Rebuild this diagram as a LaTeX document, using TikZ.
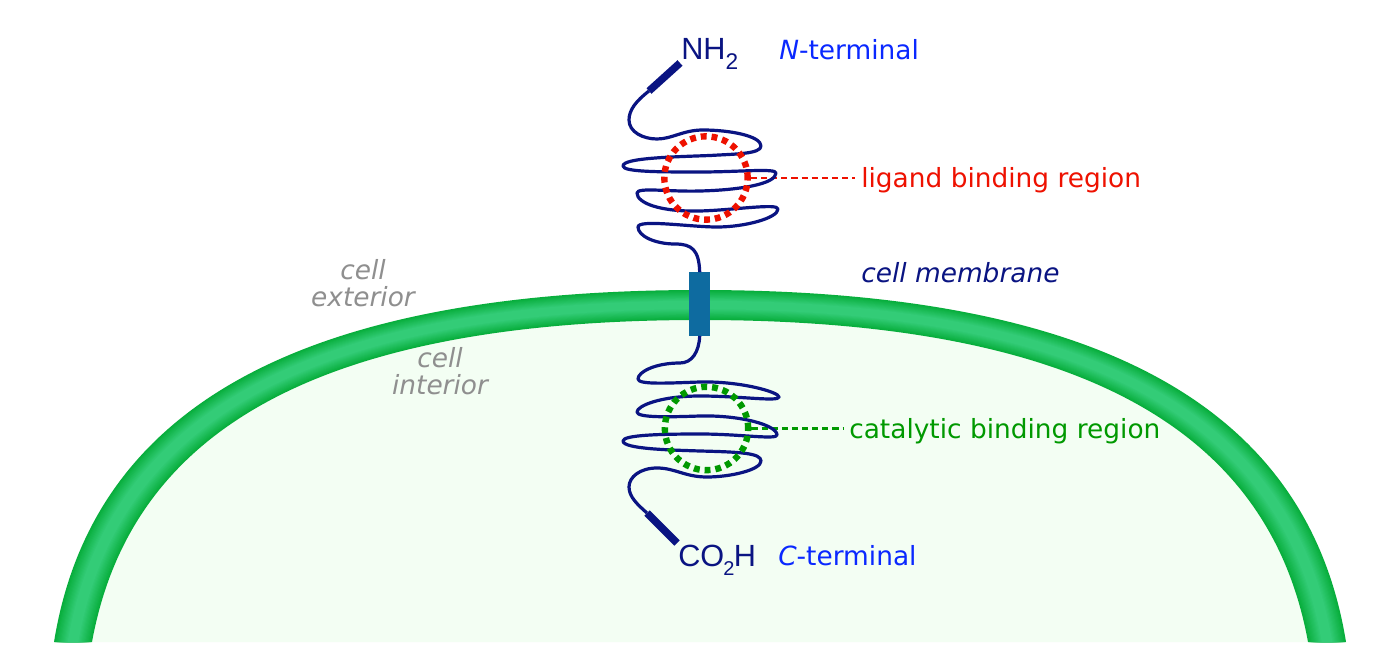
\documentclass[tikz,border=0pt]{standalone}
\usepackage{fontspec}
\setmainfont{DejaVu Sans}
\newfontfamily\chemfont{Liberation Sans}
\definecolor{memedge}{HTML}{08AE3C}
\definecolor{memmid}{HTML}{33CC77}
\definecolor{cellin}{HTML}{F3FEF3}
\definecolor{navyc}{HTML}{0A1482}
\definecolor{rodc}{HTML}{0E6BA0}
\definecolor{redc}{HTML}{EE1100}
\definecolor{greenc}{HTML}{009900}
\definecolor{bluec}{HTML}{0A28FF}
\definecolor{grayc}{HTML}{8F8F8F}
\pgfdeclarelayer{under}
\pgfdeclarelayer{mid}
\pgfsetlayers{under,mid,main}
\tikzset{
  coil/.style={draw=navyc,line width=2.4pt,line join=round},
  endrod/.style={draw=navyc,line width=5.6pt},
  ringnode/.style={circle,minimum size=62.5pt,inner sep=0pt,line width=4.8pt,dash pattern=on 4.4pt off 3.7pt},
  lead/.style={line width=1.9pt,dash pattern=on 4.6pt off 3pt,shorten >=4.5pt},
  lab/.style={font=\fontsize{19.8}{23}\selectfont,anchor=base west,inner sep=0pt},
  grp/.style={font=\fontsize{19.8}{20.5}\selectfont\itshape,text=grayc,align=center,inner sep=0pt},
  chem/.style={font=\fontsize{23}{26}\chemfont,text=navyc,anchor=base west,inner sep=0pt},
}
% O: (54,642) (90,420) (280,290) (700,290); I: (92,642) (128,445) (295,320) (700,320)
\newcommand{\bandfill}[2]{%
  \pgfmathsetmacro\ax{54+38*#1}\pgfmathsetmacro\bx{90+38*#1}\pgfmathsetmacro\by{420+25*#1}%
  \pgfmathsetmacro\cx{280+15*#1}\pgfmathsetmacro\cy{290+30*#1}%
  \pgfmathsetmacro\Ax{54+38*(1-#1)}\pgfmathsetmacro\Bx{90+38*(1-#1)}\pgfmathsetmacro\By{420+25*(1-#1)}%
  \pgfmathsetmacro\Cx{280+15*(1-#1)}\pgfmathsetmacro\Cy{290+30*(1-#1)}%
  \fill[#2] (\ax,642) .. controls (\bx,\by) and (\cx,\cy) .. (700,\cy)
    .. controls ({1400-\cx},\cy) and ({1400-\bx},\by) .. ({1400-\ax},642)
    -- ({1400-\Ax},642) .. controls ({1400-\Bx},\By) and ({1400-\Cx},\Cy) .. (700,\Cy)
    .. controls (\Cx,\Cy) and (\Bx,\By) .. (\Ax,642) -- cycle;
}
\begin{document}
\begin{tikzpicture}[x=0.75pt,y=-0.75pt]
\useasboundingbox (0,0) rectangle (1400,670);
\begin{pgfonlayer}{under}
\fill[white] (0,0) rectangle (1400,670);
\fill[cellin] (92,642) .. controls (128,445) and (295,320) .. (700,320) .. controls (1105,320) and (1272,445) .. (1308,642) -- cycle;
\foreach \i in {0,...,12}{
  \pgfmathsetmacro\ff{\i*0.03}
  \pgfmathtruncatemacro\pp{\i*100/12}
  \bandfill{\ff}{memmid!\pp!memedge}
}
\node[fill=rodc,draw=none,minimum width=16pt,minimum height=47.5pt,inner sep=0pt] (tm) at (699.7,304) {};
\end{pgfonlayer}
\coordinate (ntop) at (680,63);
\coordinate (nbot) at (649,91);
\coordinate (cbot) at (677,543);
\coordinate (ctop) at (647,513);
% rings
\node[ringnode,draw=redc] (ringa) at (706,178) {};
\node[ringnode,draw=greenc] (ringb) at (706.5,428.5) {};
% coils
\begin{pgfonlayer}{mid}
\draw[coil] (nbot) .. controls (636,101) and (629,110) .. (629,120)
 .. controls (629,132) and (643,139) .. (657,139)
 .. controls (672,139) and (683,130) .. (703,130)
 .. controls (730,130) and (761,136) .. (761,146)
 .. controls (761,154) and (735,154) .. (710,155.5)
 .. controls (670,157) and (623,158) .. (623,166)
 .. controls (623,172) and (660,172) .. (700,172)
 .. controls (740,172) and (776,168) .. (776,173)
 .. controls (776,184) and (740,190) .. (700,191)
 .. controls (670,192) and (637,187) .. (637,193)
 .. controls (637,203) and (660,212) .. (700,211)
 .. controls (735,210) and (778,203) .. (778,209)
 .. controls (778,218) and (745,227) .. (717,227)
 .. controls (690,227) and (638,219) .. (638,227)
 .. controls (638,236) and (655,244) .. (675,244)
 .. controls (692,244) and (699,250) .. (tm.north);
\draw[coil] (tm.south) .. controls (699,352) and (692,363) .. (680,363)
 .. controls (655,363) and (638,372) .. (638,379)
 .. controls (638,385) and (670,383) .. (700,382)
 .. controls (740,381) and (779,392) .. (779,397)
 .. controls (779,402) and (740,396) .. (700,396)
 .. controls (660,396) and (637,406) .. (637,412)
 .. controls (637,418) and (670,417) .. (700,416)
 .. controls (740,415) and (777,425) .. (777,435)
 .. controls (777,440) and (740,434) .. (700,434)
 .. controls (660,434) and (623,435) .. (623,441)
 .. controls (623,449) and (670,450) .. (700,451)
 .. controls (740,452) and (761,453) .. (761,461)
 .. controls (761,470) and (730,477) .. (707,477)
 .. controls (685,477) and (675,468) .. (657,468)
 .. controls (640,468) and (629,477) .. (629,487)
 .. controls (629,497) and (638,505) .. (ctop);
\draw[endrod] (nbot) -- (ntop);
\draw[endrod] (ctop) -- (cbot);
\end{pgfonlayer}
% labels
\node[chem] (nh) at (681,60) {NH\raisebox{-0.3em}{\fontsize{17}{20}\selectfont 2}};
\node[chem] (co) at (678,566) {CO\kern-0.6pt\raisebox{-0.3em}{\fontsize{15}{20}\selectfont 2}\kern-0.6pt H};
\node[lab,text=bluec] (nterm) at (779,60) {\itshape N\upshape -terminal};
\node[lab,text=bluec] (cterm) at (778,565) {\itshape C\upshape -terminal};
\node[lab,text=redc] (ligand) at (861,187.5) {ligand binding region};
\node[lab,text=greenc] (cataly) at (849,438) {catalytic binding region};
\node[lab,text=navyc,font=\fontsize{19.8}{23}\selectfont\itshape] (memb) at (861,282.5) {cell membrane};
\node[grp] (ext) at (363,283) {cell\\exterior};
\node[grp] (int) at (440,371) {cell\\interior};
\begin{pgfonlayer}{under}
\draw[lead,redc] (ringa.east) -- (ligand.west |- ringa.east);
\draw[lead,greenc] (ringb.east) -- (cataly.west |- ringb.east);
\end{pgfonlayer}
\end{tikzpicture}
\end{document}
